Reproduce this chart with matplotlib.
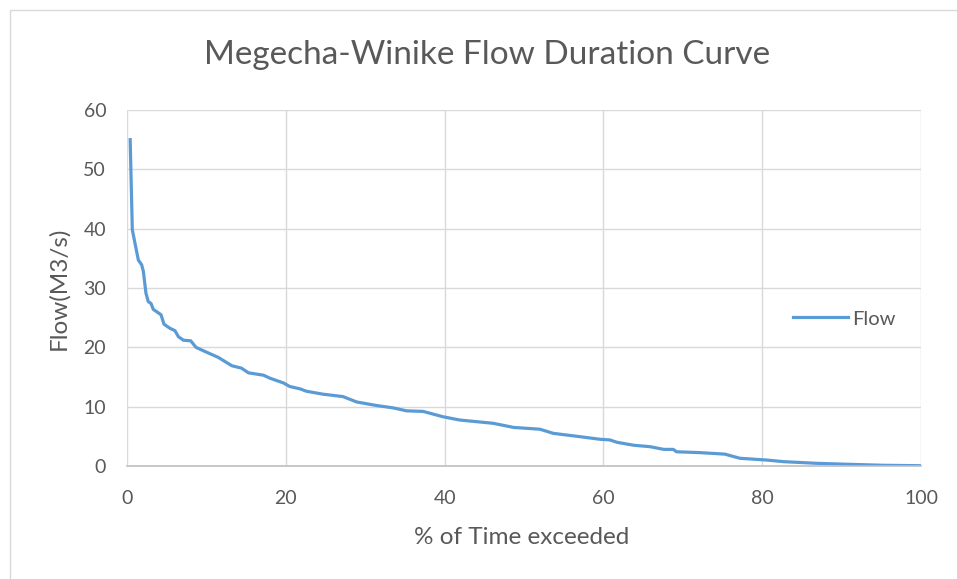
import matplotlib
matplotlib.use("Agg")
import matplotlib.pyplot as plt
from matplotlib.patches import Rectangle

pct_time = [0.4, 0.67, 1.43, 1.85, 2.06, 2.39, 2.68, 3.02, 3.31, 4.28, 4.66, 5.42, 6.05,
            6.47, 7.1, 8.02, 8.69, 9.82, 11.5, 13.2, 14.4, 15.3, 17.2, 18.0, 19.7, 20.5,
            21.8, 22.6, 24.7, 27.2, 28.9, 31.4, 33.5, 35.2, 37.3, 39.8, 41.9, 46.1, 48.7,
            52.0, 53.7, 57.0, 59.6, 60.8, 61.7, 63.8, 65.9, 67.6, 68.8, 69.2, 72.2, 75.3,
            77.2, 80.6, 82.7, 86.9, 91.1, 95.3, 99.9]
flow = [55.0, 39.8, 34.7, 33.9, 32.8, 29.1, 27.7, 27.4, 26.4, 25.5, 23.9, 23.2, 22.8,
        21.8, 21.2, 21.1, 20.0, 19.3, 18.3, 16.9, 16.5, 15.7, 15.3, 14.8, 14.0, 13.4,
        13.0, 12.6, 12.1, 11.7, 10.8, 10.2, 9.8, 9.3, 9.2, 8.3, 7.75, 7.2, 6.5,
        6.2, 5.5, 4.95, 4.5, 4.4, 4.0, 3.5, 3.25, 2.8, 2.8, 2.4, 2.25, 2.0,
        1.3, 1.0, 0.73, 0.45, 0.28, 0.12, 0.05]

title = "Megecha-Winike Flow Duration Curve"
xlabel = "% of Time exceeded"
ylabel = "Flow(M3/s)"
series_name = "Flow"

plt.rcParams['font.family'] = ['Lato', 'DejaVu Sans']
txt = '#595959'

fig = plt.figure(figsize=(9.57, 5.79), dpi=100)
fig.patches.append(Rectangle((10/957, -0.1), 1.2, 1 - 10/579 + 0.1, transform=fig.transFigure,
                             fill=False, edgecolor='#D9D9D9', linewidth=1))
ax = fig.add_axes([127/957, 1 - 466/579, (921 - 127)/957, (466 - 110)/579])

ax.plot(pct_time, flow, color='#5B9BD5', linewidth=2.3, label=series_name, solid_joinstyle='round')
ax.set_xlim(0, 100)
ax.set_ylim(0, 60)
ax.set_xticks(range(0, 101, 20))
ax.set_yticks(range(0, 61, 10))
ax.grid(True, color='#D9D9D9', linewidth=1)
ax.set_axisbelow(True)
for s in ['top', 'right', 'left']:
    ax.spines[s].set_visible(False)
ax.spines['bottom'].set_color('#BFBFBF')
ax.spines['bottom'].set_linewidth(1.2)
ax.tick_params(length=0, labelsize=14, labelcolor=txt)
ax.tick_params(axis='x', pad=17)
ax.tick_params(axis='y', pad=15)
fig.text(522/957, 1 - 537/579, xlabel, ha='center', va='center', fontsize=17.5, color=txt)
fig.text(59/957, 1 - 288/579, ylabel, ha='center', va='center', rotation=90, fontsize=17.5, color=txt)
fig.text(487/957, 1 - 55/579, title, ha='center', va='center', fontsize=24, color=txt)
leg = ax.legend(loc='center left', bbox_to_anchor=(0.839, 0.413), frameon=False,
                fontsize=14.5, handlelength=2.7, handletextpad=0.25, borderpad=0,
                borderaxespad=0, labelcolor=txt)

fig.savefig('out.png', dpi=100)
